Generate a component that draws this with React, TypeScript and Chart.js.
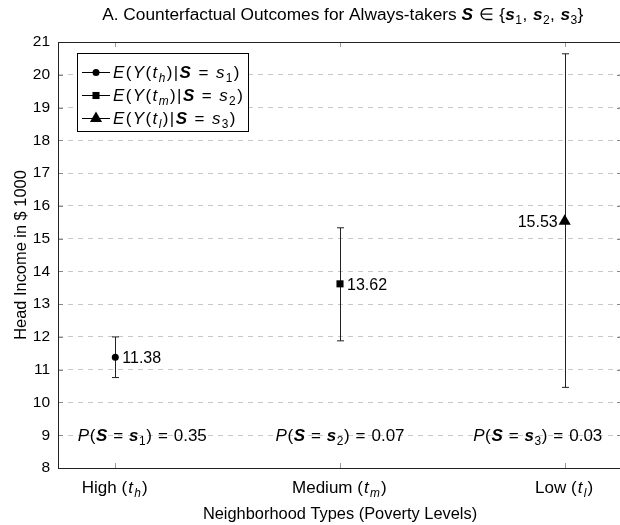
import React, { useEffect, useRef } from "react";
import { Chart, registerables } from "chart.js";

Chart.register(...registerables);

// ---------- data ----------
const CATEGORIES = ["High", "Medium", "Low"];
const CATEGORY_SUBS = ["h", "m", "l"];
const MEANS = [11.38, 13.62, 15.53];
const LOWER = [10.76, 11.88, 10.46];
const UPPER = [12.0, 15.33, 20.64];
const PROBS = ["0.35", "0.07", "0.03"];
const POINT_STYLES = ["circle", "rect", "triangle"];
const Y_MIN = 8;
const Y_MAX = 21;
const PROB_LABEL_Y = 9;
const PROB_LABEL_X = [0.12, 1.0, 1.88];

const FAMILY = '"Liberation Sans", Arial, sans-serif';
const POINT_RADII = [3.5, 5, 7];

type Seg = { t: string; f?: "i" | "b"; sub?: boolean; m?: boolean };

function segFont(seg: Seg, size: number) {
  const sz = seg.sub ? size * 0.7 : size;
  const style = seg.f === "i" ? "italic " : seg.f === "b" ? "italic bold " : "";
  return `${style}${sz}px ${FAMILY}`;
}

function segWidth(ctx: CanvasRenderingContext2D, s: Seg, size: number, ls: number) {
  ctx.font = segFont(s, size);
  if (!s.m || ls === 0) return ctx.measureText(s.t).width;
  let w = 0;
  for (const ch of Array.from(s.t)) w += ctx.measureText(ch).width + ls;
  return w;
}

function richWidth(ctx: CanvasRenderingContext2D, segs: Seg[], size: number, ls = 0) {
  let w = 0;
  for (const s of segs) w += segWidth(ctx, s, size, ls);
  return w;
}

function drawRich(
  ctx: CanvasRenderingContext2D,
  segs: Seg[],
  x: number,
  baseline: number,
  size: number,
  align: "left" | "center" | "right",
  ls = 0
) {
  const w = richWidth(ctx, segs, size, ls);
  let cx = align === "left" ? x : align === "center" ? x - w / 2 : x - w;
  ctx.save();
  ctx.textAlign = "left";
  ctx.textBaseline = "alphabetic";
  ctx.fillStyle = "#000";
  for (const s of segs) {
    ctx.font = segFont(s, size);
    const by = baseline + (s.sub ? size * 0.22 : 0);
    if (!s.m || ls === 0) {
      ctx.fillText(s.t, cx, by);
      cx += ctx.measureText(s.t).width;
    } else {
      for (const ch of Array.from(s.t)) {
        ctx.fillText(ch, cx, by);
        cx += ctx.measureText(ch).width + ls;
      }
    }
  }
  ctx.restore();
  return w;
}

function drawMarker(ctx: CanvasRenderingContext2D, style: string, x: number, y: number, r: number) {
  ctx.beginPath();
  if (style === "circle") {
    ctx.arc(x, y, r, 0, Math.PI * 2);
  } else if (style === "rect") {
    const s = Math.SQRT1_2 * r;
    ctx.rect(x - s, y - s, 2 * s, 2 * s);
  } else {
    let rad = 0;
    ctx.moveTo(x + Math.sin(rad) * r, y - Math.cos(rad) * r);
    rad += (2 * Math.PI) / 3;
    ctx.lineTo(x + Math.sin(rad) * r, y - Math.cos(rad) * r);
    rad += (2 * Math.PI) / 3;
    ctx.lineTo(x + Math.sin(rad) * r, y - Math.cos(rad) * r);
    ctx.closePath();
  }
  ctx.fillStyle = "#000";
  ctx.fill();
}

const titleSegs: Seg[] = [
  { t: "A. Counterfactual Outcomes for Always-takers " },
  { t: "S", f: "b", m: true },
  { t: " \u2208 {", m: true },
  { t: "s", f: "b", m: true },
  { t: "1", sub: true, m: true },
  { t: ", ", m: true },
  { t: "s", f: "b", m: true },
  { t: "2", sub: true, m: true },
  { t: ", ", m: true },
  { t: "s", f: "b", m: true },
  { t: "3", sub: true, m: true },
  { t: "}", m: true },
];

function legendSegs(i: number): Seg[] {
  return [
    { t: "E", f: "i", m: true },
    { t: "(", m: true },
    { t: "Y", f: "i", m: true },
    { t: "(", m: true },
    { t: "t", f: "i", m: true },
    { t: CATEGORY_SUBS[i], f: "i", sub: true, m: true },
    { t: ")|", m: true },
    { t: "S", f: "b", m: true },
    { t: " = ", m: true },
    { t: "s", f: "i", m: true },
    { t: String(i + 1), sub: true, m: true },
    { t: ")", m: true },
  ];
}

function probSegs(i: number): Seg[] {
  return [
    { t: "P", f: "i", m: true },
    { t: "(", m: true },
    { t: "S", f: "b", m: true },
    { t: " = ", m: true },
    { t: "s", f: "b", m: true },
    { t: String(i + 1), sub: true, m: true },
    { t: ") = ", m: true },
    { t: PROBS[i] },
  ];
}

function tickSegs(i: number): Seg[] {
  return [
    { t: CATEGORIES[i] + " " },
    { t: "(", m: true },
    { t: "t", f: "i", m: true },
    { t: CATEGORY_SUBS[i], f: "i", sub: true, m: true },
    { t: ")", m: true },
  ];
}

const overlayPlugin = {
  id: "overlay",
  beforeDatasetsDraw(chart: any) {
    const ctx: CanvasRenderingContext2D = chart.ctx;
    const xs = chart.scales.x;
    const ys = chart.scales.y;
    ctx.save();
    ctx.strokeStyle = "#222";
    ctx.lineWidth = 1;
    for (let i = 0; i < MEANS.length; i++) {
      const x = Math.round(xs.getPixelForValue(i)) + 0.5;
      const yl = ys.getPixelForValue(LOWER[i]);
      const yu = ys.getPixelForValue(UPPER[i]);
      ctx.beginPath();
      ctx.moveTo(x, yl);
      ctx.lineTo(x, yu);
      ctx.moveTo(x - 3.5, yl);
      ctx.lineTo(x + 3.5, yl);
      ctx.moveTo(x - 3.5, yu);
      ctx.lineTo(x + 3.5, yu);
      ctx.stroke();
    }
    ctx.restore();
  },
  afterDatasetsDraw(chart: any) {
    const ctx: CanvasRenderingContext2D = chart.ctx;
    const xs = chart.scales.x;
    const ys = chart.scales.y;
    for (let i = 0; i < MEANS.length; i++) {
      const x = xs.getPixelForValue(i);
      const y = ys.getPixelForValue(MEANS[i]);
      const last = i === MEANS.length - 1;
      drawRich(ctx, [{ t: MEANS[i].toFixed(2) }], last ? x - 7 : x + 7, y + 16 * 0.36, 16, last ? "right" : "left");
    }
    for (let i = 0; i < PROBS.length; i++) {
      const x = xs.getPixelForValue(PROB_LABEL_X[i]);
      const y = ys.getPixelForValue(PROB_LABEL_Y);
      drawRich(ctx, probSegs(i), x, y + 17 * 0.36, 17, "center", 0.6);
    }
  },
  afterDraw(chart: any) {
    const ctx: CanvasRenderingContext2D = chart.ctx;
    const xs = chart.scales.x;
    const ys = chart.scales.y;
    const a = chart.chartArea;
    ctx.save();
    // inward ticks
    ctx.lineWidth = 1;
    ctx.strokeStyle = "#999";
    for (let i = 0; i < CATEGORIES.length; i++) {
      const x = Math.round(xs.getPixelForValue(i)) + 0.5;
      ctx.beginPath();
      ctx.moveTo(x, a.bottom);
      ctx.lineTo(x, a.bottom - 5);
      ctx.moveTo(x, a.top);
      ctx.lineTo(x, a.top + 5);
      ctx.stroke();
    }
    ctx.strokeStyle = "#888";
    for (let v = Y_MIN; v <= Y_MAX; v++) {
      const y = Math.round(ys.getPixelForValue(v)) + 0.5;
      ctx.beginPath();
      ctx.moveTo(a.left, y);
      ctx.lineTo(a.left + 5, y);
      ctx.moveTo(a.right, y);
      ctx.lineTo(a.right - 5, y);
      ctx.stroke();
    }
    // frame
    ctx.strokeStyle = "#222";
    ctx.lineWidth = 1;
    ctx.strokeRect(Math.round(a.left) + 0.5, Math.round(a.top) + 0.5, Math.round(a.right - a.left), Math.round(a.bottom - a.top));
    ctx.restore();

    // x tick labels
    for (let i = 0; i < CATEGORIES.length; i++) {
      const x = xs.getPixelForValue(i);
      drawRich(ctx, tickSegs(i), x, a.bottom + 25, 17, "center", 1.2);
    }

    // title
    drawRich(ctx, titleSegs, (a.left + a.right) / 2 + 3, 20, 17.3, "center", 0.4);

    // legend
    const lx = a.left + 19;
    const ly = a.top + 11;
    let maxW = 0;
    for (let i = 0; i < MEANS.length; i++) maxW = Math.max(maxW, richWidth(ctx, legendSegs(i), 17, 1.4));
    const boxW = 36 + maxW + 4;
    const boxH = 78;
    ctx.save();
    ctx.fillStyle = "#fff";
    ctx.fillRect(lx, ly, boxW, boxH);
    ctx.strokeStyle = "#000";
    ctx.lineWidth = 1;
    ctx.strokeRect(Math.round(lx) + 0.5, Math.round(ly) + 0.5, Math.round(boxW), boxH);
    for (let i = 0; i < MEANS.length; i++) {
      const cy = ly + 19 + i * 23;
      ctx.beginPath();
      ctx.strokeStyle = "#000";
      ctx.moveTo(lx + 5, cy + 0.5);
      ctx.lineTo(lx + 33, cy + 0.5);
      ctx.stroke();
      drawMarker(ctx, POINT_STYLES[i], lx + 19, cy + 0.5, POINT_RADII[i]);
      drawRich(ctx, legendSegs(i), lx + 36, cy + 17 * 0.36, 17, "left", 1.4);
    }
    ctx.restore();
  },
};

export default function App() {
  const ref = useRef<HTMLCanvasElement | null>(null);
  useEffect(() => {
    if (!ref.current) return;
    const chart = new Chart(ref.current, {
      type: "scatter",
      data: {
        datasets: MEANS.map((m, i) => ({
          label: CATEGORIES[i],
          data: [{ x: i, y: m }],
          pointStyle: POINT_STYLES[i] as any,
          pointRadius: POINT_RADII[i],
          pointBorderWidth: 0,
          backgroundColor: "#000",
          borderColor: "#000",
        })),
      },
      options: {
        animation: false,
        responsive: false,
        events: [],
        layout: { padding: { top: 42, right: 18, left: 0, bottom: 0 } },
        plugins: {
          legend: { display: false },
          tooltip: { enabled: false },
          title: { display: false },
        },
        scales: {
          x: {
            type: "linear",
            min: -0.255,
            max: 2.255,
            grid: { display: false },
            border: { display: false },
            ticks: { display: false },
            title: {
              display: true,
              text: "Neighborhood Types (Poverty Levels)",
              color: "#000",
              font: { family: FAMILY, size: 16.4 },
              padding: { top: 0, bottom: 1 },
            },
            afterFit: (s: any) => {
              s.height = 57;
            },
          },
          y: {
            min: Y_MIN,
            max: Y_MAX,
            ticks: { stepSize: 1, color: "#000", font: { family: FAMILY, size: 15.5 }, padding: 8 },
            grid: { color: "#c8c8c8", drawTicks: false, lineWidth: 1 },
            border: { display: false, dash: [5, 5] },
            title: {
              display: true,
              text: "Head Income in $ 1000",
              color: "#000",
              font: { family: FAMILY, size: 16.4 },
              padding: { top: 12, bottom: 0 },
            },
            afterFit: (s: any) => {
              s.width = 58;
            },
          },
        },
      },
      plugins: [overlayPlugin],
    });
    return () => chart.destroy();
  }, []);
  return (
    <div
      style={{
        position: "absolute",
        left: 0,
        top: 0,
        width: 620,
        height: 525,
        overflow: "hidden",
        background: "#fff",
      }}
    >
      <canvas ref={ref} width={640} height={525} style={{ display: "block", width: 640, height: 525 }} />
    </div>
  );
}
